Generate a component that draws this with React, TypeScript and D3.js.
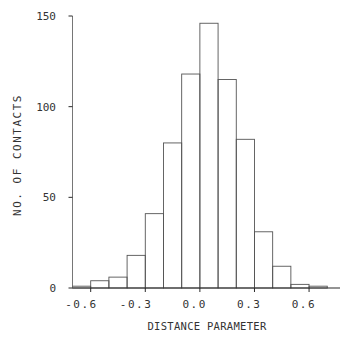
import React from "react";
import * as d3 from "d3";

const binEdges = [-0.7, -0.6, -0.5, -0.4, -0.3, -0.2, -0.1, 0.0, 0.1, 0.2, 0.3, 0.4, 0.5, 0.6, 0.7];
const counts = [1, 4, 6, 18, 41, 80, 118, 146, 115, 82, 31, 12, 2, 1];
const xTicks = [-0.6, -0.3, 0.0, 0.3, 0.6];
const xTickLabels = ["-0.6", "-0.3", "0.0", "0.3", "0.6"];
const yTicks = [0, 50, 100, 150];
const xTitle = "DISTANCE PARAMETER";
const yTitle = "NO. OF CONTACTS";

export default function App() {
  const W = 344, H = 342;
  const x = d3.scaleLinear().domain([-0.7, 0.77]).range([72.5, 340]);
  const y = d3.scaleLinear().domain([0, 150]).range([288, 16]);
  const font = "'DejaVu Sans Mono', monospace";
  const ink = "#2a2a2a";
  return (
    <svg width={W} height={H} style={{ position: "absolute", left: 0, top: 0, background: "#fff" }}>
      {counts.map((c, i) => (
        <rect key={i} x={x(binEdges[i])} y={y(c)} width={x(binEdges[i + 1]) - x(binEdges[i])} height={y(0) - y(c)}
          fill="none" stroke="#555" strokeWidth={0.9} />
      ))}
      <line x1={x(-0.7)} x2={x(0.77)} y1={y(0)} y2={y(0)} stroke={ink} strokeWidth={1.2} />
      <line x1={x(-0.7)} x2={x(-0.7)} y1={y(0)} y2={y(150)} stroke="#666" strokeWidth={0.9} />
      {yTicks.map((t) => (
        <g key={t}>
          <line x1={x(-0.7) - 4} x2={x(-0.7)} y1={y(t)} y2={y(t)} stroke={ink} strokeWidth={1} />
          <text x={56} y={y(t) + 4} textAnchor="end" fontFamily={font} fontSize={11} fill="#333">{t}</text>
        </g>
      ))}
      {xTicks.map((t, i) => (
        <g key={t}>
          <line x1={x(t)} x2={x(t)} y1={y(0)} y2={y(0) + 4} stroke={ink} strokeWidth={1} />
          <text x={x(t) + 7} y={308} textAnchor="end" fontFamily={font} fontSize={11} fill="#333" letterSpacing={1.5}>{xTickLabels[i]}</text>
        </g>
      ))}
      <text x={207} y={330} textAnchor="middle" fontFamily={font} fontSize={10.5} fill="#333" letterSpacing={0.3}>{xTitle}</text>
      <text transform={`translate(21,155) rotate(-90)`} textAnchor="middle" fontFamily={font} fontSize={11} fill="#333" letterSpacing={1.5}>{yTitle}</text>
    </svg>
  );
}
